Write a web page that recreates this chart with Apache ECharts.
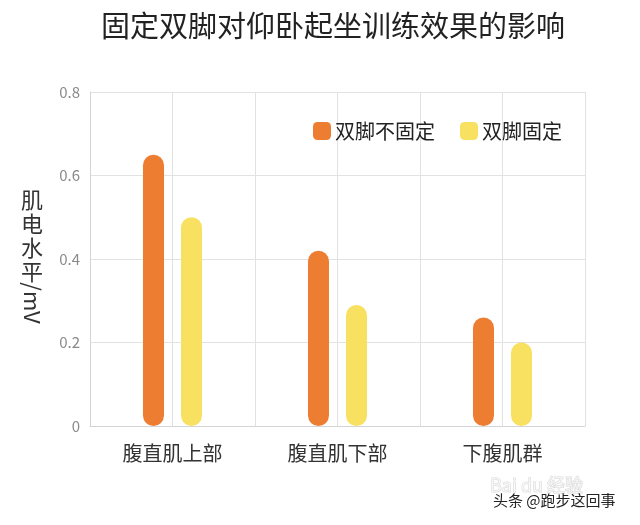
<!DOCTYPE html>
<html>
<head>
<meta charset="utf-8">
<script src="https://cdn.jsdelivr.net/npm/echarts@6/dist/echarts.min.js"></script>
<style>
  html, body { margin: 0; padding: 0; background: #fff; }
  #main { width: 640px; height: 525px; }
</style>
</head>
<body>
<div id="main"></div>
<script>
var categories = ['腹直肌上部', '腹直肌下部', '下腹肌群'];
var seriesNames = ['双脚不固定', '双脚固定'];
var notFixed = [0.65, 0.42, 0.26];
var fixed = [0.50, 0.29, 0.20];
var yTicks = [0, 0.8, 0.2]; // min, max, interval

var font = '"Noto Sans CJK SC", "Noto Sans", sans-serif';
var orange = '#ED7D31';
var yellow = '#F8E061';

var chart = echarts.init(document.getElementById('main'));

var option = {
  backgroundColor: '#fff',
  textStyle: { fontFamily: font },
  title: {
    text: '固定双脚对仰卧起坐训练效果的影响',
    left: 101,
    top: 11,
    padding: 0,
    textStyle: { fontSize: 29, fontWeight: 'normal', color: '#222', fontFamily: font }
  },
  legend: {
    left: 313,
    top: 121,
    padding: 0,
    itemWidth: 18,
    itemHeight: 18,
    itemGap: 25,
    icon: 'roundRect',
    textStyle: { fontSize: 20, color: '#222', padding: [0, 0, 0, -1] },
    data: seriesNames
  },
  grid: { left: 90, right: 55, top: 92, bottom: 99 },
  xAxis: [
    {
      type: 'category',
      data: categories,
      axisLine: { lineStyle: { color: '#d4d4d4' } },
      axisTick: { show: false },
      axisLabel: { fontSize: 20, color: '#333', margin: 17 },
      splitLine: { show: false }
    },
    {
      // half-category helper axis, only for the vertical grid lines
      type: 'value',
      min: 0,
      max: categories.length * 2,
      interval: 1,
      position: 'bottom',
      axisLine: { show: false },
      axisTick: { show: false },
      axisLabel: { show: false },
      splitLine: { show: true, lineStyle: { color: '#e2e2e2' } }
    }
  ],
  yAxis: {
    type: 'value',
    min: yTicks[0],
    max: yTicks[1],
    interval: yTicks[2],
    axisLine: { show: true, lineStyle: { color: '#d4d4d4' } },
    axisTick: { show: false },
    axisLabel: { fontSize: 15, color: '#8a8a8a', margin: 10 },
    splitLine: { lineStyle: { color: '#e2e2e2' } }
  },
  series: [
    {
      name: seriesNames[0],
      type: 'bar',
      data: notFixed,
      barWidth: 21,
      barGap: '81%',
      itemStyle: { color: orange, borderRadius: 10.5 }
    },
    {
      name: seriesNames[1],
      type: 'bar',
      data: fixed,
      barWidth: 21,
      itemStyle: { color: yellow, borderRadius: 10.5 }
    }
  ],
  graphic: [
    {
      type: 'text',
      x: 32,
      y: 188,
      style: {
        text: '肌\n电\n水\n平',
        fontSize: 22,
        lineHeight: 24,
        fill: '#333',
        fontFamily: font,
        align: 'center',
        verticalAlign: 'top'
      }
    },
    {
      type: 'text',
      x: 32,
      y: 303,
      rotation: -Math.PI / 2,
      style: {
        text: '/mV',
        fontSize: 22,
        fill: '#333',
        fontFamily: font,
        align: 'center',
        verticalAlign: 'middle'
      }
    },
    {
      type: 'text',
      x: 490,
      y: 476,
      style: {
        text: 'Bai du 经验',
        fontSize: 18,
        fill: 'rgba(255,255,255,0.6)',
        stroke: 'rgba(170,170,170,0.45)',
        lineWidth: 1,
        fontFamily: font
      }
    },
    {
      type: 'text',
      x: 493,
      y: 493,
      style: {
        text: '头条 @跑步这回事',
        fontSize: 15,
        fill: '#222',
        fontFamily: font
      }
    }
  ]
};

chart.setOption(option);
</script>
</body>
</html>
